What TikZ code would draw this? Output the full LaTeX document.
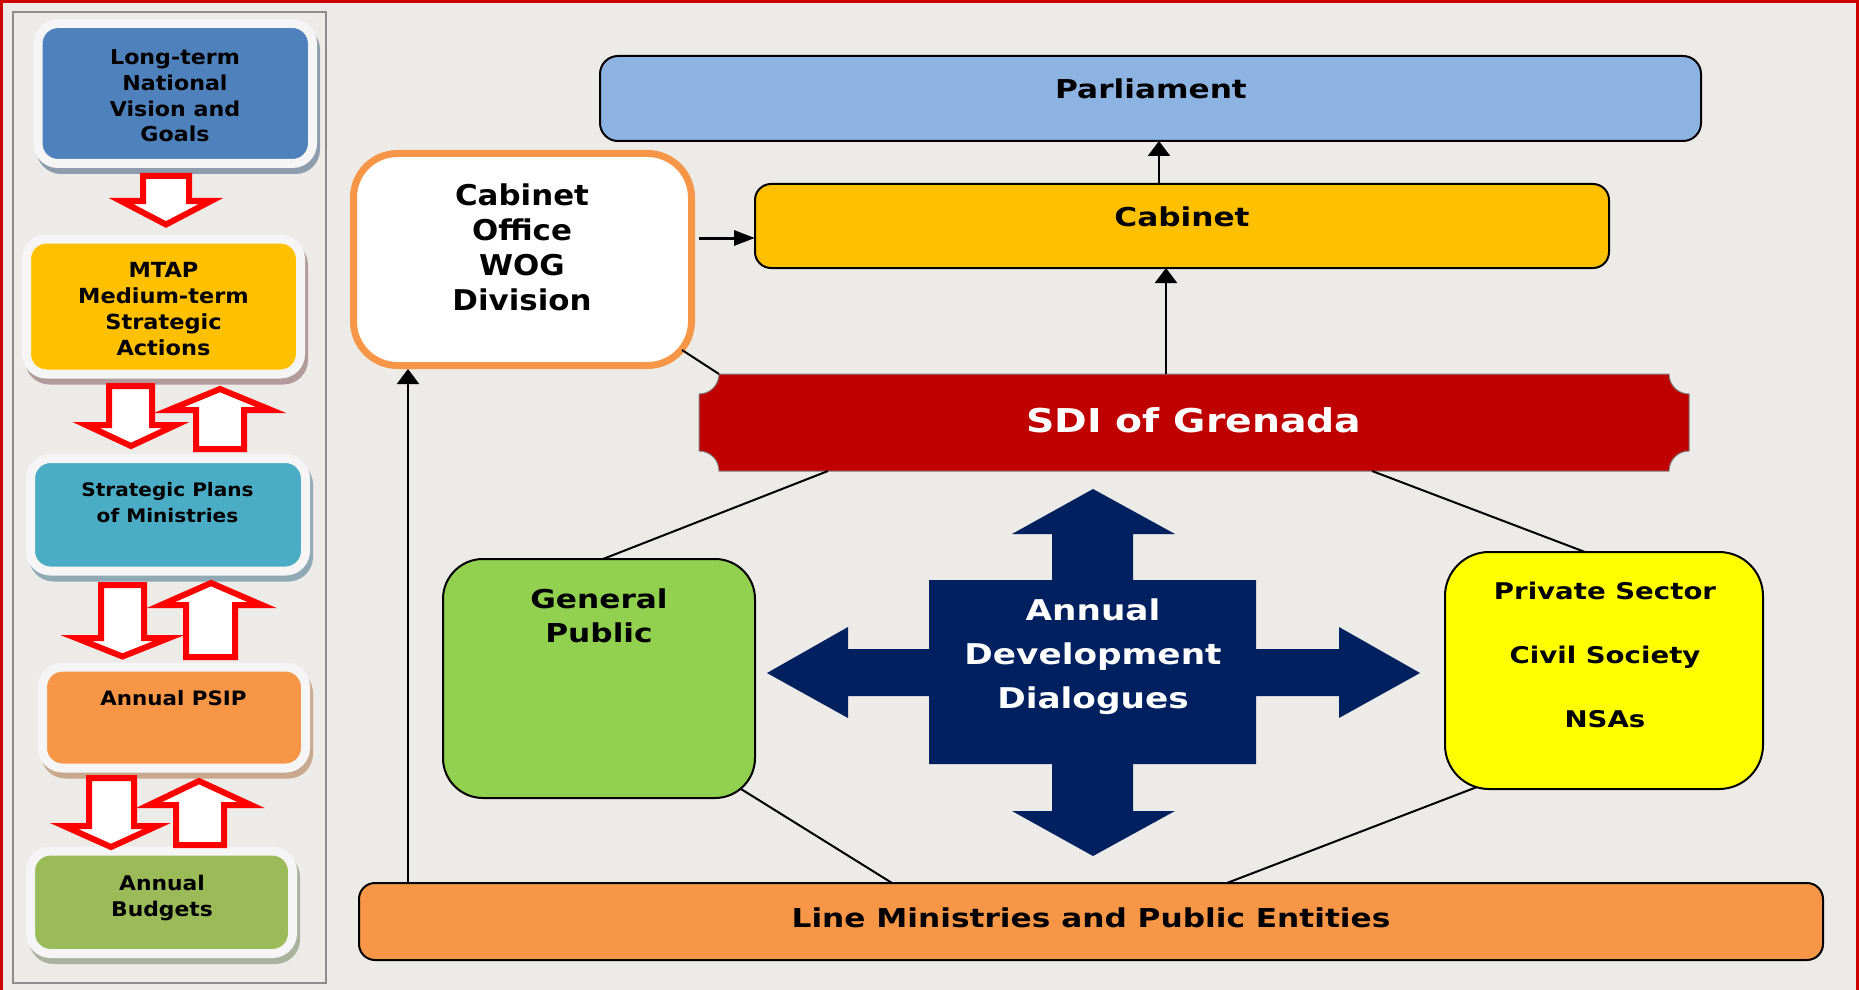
\documentclass[tikz,border=0pt]{standalone}
\usepackage{fontspec}
\setmainfont{DejaVu Sans}[FakeStretch=1.2]
\newfontfamily\lfam{DejaVu Sans}[FakeStretch=1.08]
\usetikzlibrary{arrows.meta,calc}
\definecolor{bgc}{HTML}{EDEBE8}
\definecolor{framec}{HTML}{D00000}
\definecolor{lframec}{HTML}{8C8C8C}
\definecolor{glowc}{HTML}{F5F5F5}
\definecolor{c1}{HTML}{4F81BD}
\definecolor{s1}{HTML}{8E9DAE}
\definecolor{c2}{HTML}{FFC000}
\definecolor{s2}{HTML}{B39B9B}
\definecolor{c3}{HTML}{4BACC6}
\definecolor{s3}{HTML}{8FAAB5}
\definecolor{c4}{HTML}{F79646}
\definecolor{s4}{HTML}{C9A98E}
\definecolor{c5}{HTML}{9BBB59}
\definecolor{s5}{HTML}{A9B29D}
\definecolor{redar}{HTML}{FF0000}
\definecolor{parlc}{HTML}{8DB3E2}
\definecolor{cabc}{HTML}{FFC000}
\definecolor{coc}{HTML}{F79646}
\definecolor{sdic}{HTML}{C00000}
\definecolor{gpc}{HTML}{92D050}
\definecolor{psc}{HTML}{FFFF00}
\definecolor{lmc}{HTML}{F79646}
\definecolor{navyc}{HTML}{002060}
\newcommand\myfs[2]{\fontsize{#1}{#2}\selectfont\bfseries}
\newcommand\mylfs[2]{\lfam\fontsize{#1}{#2}\selectfont\bfseries}
\begin{document}
\begin{tikzpicture}[x=0.5pt,y=-0.5pt,
  every node/.style={inner sep=0pt, outer sep=0pt},
  lbox/.style n args={2}{rectangle, rounded corners=10pt, draw=glowc, fill=#1, line width=4.5pt,
     preaction={draw=#2, fill=#2, transform canvas={shift={(1.5pt,-3pt)}}}},
  rbox/.style={rectangle, draw=black, line width=1pt, fill=#1},
  txt/.style={align=center, text=black},
  harrow/.style={draw=redar, fill=white, line width=3pt, line join=miter},
  ln/.style={draw=black, line width=1pt},
  arv/.style={draw=black, line width=1.25pt, -{Triangle[length=7.5pt,width=11pt]}},
  arh/.style={draw=black, line width=1.5pt, -{Triangle[length=10.5pt,width=7.5pt]}}
]
% background and frames
\fill[bgc] (0,0) rectangle (1859,990);
\useasboundingbox (0,0) rectangle (1859,990);
\draw[framec, line width=1.5pt] (1.5,990) -- (1.5,1.5) -- (1857.5,1.5) -- (1857.5,990);
\draw[lframec, line width=1.25pt] (13,12) rectangle (326,983);

% left column boxes
\node[lbox={c1}{s1}, minimum width=137.25pt, minimum height=70pt] (b1) at (175.25,93.5) {};
\node[lbox={c2}{s2}, minimum width=137pt, minimum height=67.5pt] (b2) at (163.5,306.5) {};
\node[lbox={c3}{s3}, minimum width=137.5pt, minimum height=56.25pt] (b3) at (168,514.75) {};
\node[lbox={c4}{s4}, minimum width=131.5pt, minimum height=50.5pt] (b4) at (174,717.5) {};
\node[lbox={c5}{s5}, minimum width=131pt, minimum height=51.25pt] (b5) at (161.5,902.25) {};

\node[txt, font=\mylfs{10.25pt}{12.85pt}] (t1) at (175,96) {Long-term\\National\\Vision and\\Goals};
\node[txt, font=\mylfs{10.4pt}{13pt}] (t2) at (163.5,309) {MTAP\\Medium-term\\Strategic\\Actions};
\node[txt, font=\mylfs{9.3pt}{13pt}] (t3) at (167.5,503) {Strategic Plans\\of Ministries};
\node[txt, font=\mylfs{9.9pt}{13pt}] (t4) at (173.5,698) {Annual PSIP};
\node[txt, font=\mylfs{10.1pt}{13pt}] (t5) at (162,898) {Annual\\Budgets};

% left column hollow arrows
\draw[harrow] (143,176)--(189,176)--(189,201)--(211,201)--(166,224.5)--(121,201)--(143,201)--cycle;
\draw[harrow] (109,386)--(152,386)--(152,425)--(176,425)--(131,446)--(86,425)--(109,425)--cycle;
\draw[harrow] (220,389)--(271,410)--(244,410)--(244,449)--(196,449)--(196,410)--(169,410)--cycle;
\draw[harrow] (101,585)--(144,585)--(144,638)--(169,638)--(122.5,656.5)--(76,638)--(101,638)--cycle;
\draw[harrow] (211,583)--(262,605)--(235,605)--(235,657)--(186,657)--(186,605)--(161,605)--cycle;
\draw[harrow] (89,778)--(134,778)--(134,826)--(157,826)--(111,847)--(64,826)--(89,826)--cycle;
\draw[harrow] (199,781)--(251,805)--(224,805)--(224,845)--(176,845)--(176,805)--(149,805)--cycle;

% right side boxes
\node[rbox=parlc, rounded corners=9pt, minimum width=550.5pt, minimum height=42.5pt] (parl) at (1150.5,98.5) {};
\node[rbox=cabc, rounded corners=8pt, minimum width=427pt, minimum height=42pt] (cab) at (1182,226) {};
\node[rectangle, draw=coc, fill=white, line width=3.5pt, rounded corners=22pt, minimum width=169pt, minimum height=106pt] (co) at (522.5,259.5) {};
\node[rbox=gpc, rounded corners=20pt, minimum width=156pt, minimum height=119.5pt] (gp) at (599,678.5) {};
\node[rbox=psc, rounded corners=22pt, minimum width=159pt, minimum height=118.5pt] (ps) at (1604,670.5) {};
\node[rbox=lmc, rounded corners=8pt, minimum width=732pt, minimum height=38.5pt] (lm) at (1091,921.5) {};

% SDI shape with scooped corners
\draw[fill=sdic, draw=gray, line width=0.5pt]
  (719,374) -- (1669,374) arc[start angle=180, end angle=270, radius=10pt]
  -- (1689,451) arc[start angle=90, end angle=180, radius=10pt]
  -- (719,471) arc[start angle=0, end angle=90, radius=10pt]
  -- (699,394) arc[start angle=270, end angle=360, radius=10pt] -- cycle;
\node[minimum width=495pt, minimum height=48.5pt, text=white, font=\myfs{16.4pt}{20pt}] (sdi) at (1194,422.5) {};
\node[text=white, font=\myfs{16.4pt}{20pt}] (tsdi) at (1194,420) {SDI of Grenada};

% cross arrow
\fill[navyc] (1093,489) -- (1175,534) -- (1133,534) -- (1133,580) -- (1256,580) -- (1256,649)
  -- (1339,649) -- (1339,627) -- (1420,673) -- (1339,718) -- (1339,696) -- (1256,696)
  -- (1256,764) -- (1133,764) -- (1133,811) -- (1175,811) -- (1093,856) -- (1012,811)
  -- (1052,811) -- (1052,764) -- (929,764) -- (929,696) -- (848,696) -- (848,718)
  -- (767,673) -- (848,627) -- (848,649) -- (929,649) -- (929,580) -- (1052,580)
  -- (1052,534) -- (1012,534) -- cycle;
\node[txt, text=white, font=\myfs{14.3pt}{22pt}] (add) at (1093,657) {Annual\\Development\\Dialogues};

% texts of right boxes
\node[txt, font=\myfs{13pt}{17pt}] (tparl) at (1151,89) {Parliament};
\node[txt, font=\myfs{13pt}{17pt}] (tcab) at (1182,217) {Cabinet};
\node[txt, font=\mylfs{14.3pt}{17.5pt}] (tco) at (522,247.5) {Cabinet\\Office\\WOG\\Division};
\node[txt, font=\myfs{13pt}{17pt}] (tgp) at (599,616) {General\\Public};
\node[txt, font=\myfs{11.5pt}{32pt}] (tps) at (1605,655) {Private Sector\\Civil Society\\NSAs};
\node[txt, font=\myfs{13pt}{17pt}] (tlm) at (1091,918) {Line Ministries and Public Entities};

% connectors
\draw[ln] ([shift={(-9.5,-15.5)}]co.south east) -- ([shift={(20,0)}]sdi.north west);
\draw[ln] ([shift={(129,0)}]sdi.south west) -- ([shift={(4,0)}]gp.north);
\draw[ln] ([shift={(673,0)}]sdi.south west) -- ([shift={(-19,0)}]ps.north);
\draw[ln] ([shift={(-14,-9)}]gp.south east) -- ([shift={(533,0)}]lm.north west);
\draw[ln] ([shift={(32,-2)}]ps.south west) -- ([shift={(868,0)}]lm.north west);

\coordinate (lmA) at ([shift={(49,0)}]lm.north west);
\draw[arv, shorten >=1.75pt] (lmA) -- (lmA |- co.south);
\coordinate (coA) at ([shift={(7.5,-21.5)}]co.east);
\draw[arh] (coA) -- (coA -| cab.west);
\coordinate (cabA) at ([shift={(-23,0)}]cab.north);
\draw[arv] (cabA) -- (cabA |- parl.south);
\coordinate (sdiA) at ([shift={(-28,0)}]sdi.north);
\draw[arv] (sdiA) -- (sdiA |- cab.south);
\end{tikzpicture}
\end{document}
